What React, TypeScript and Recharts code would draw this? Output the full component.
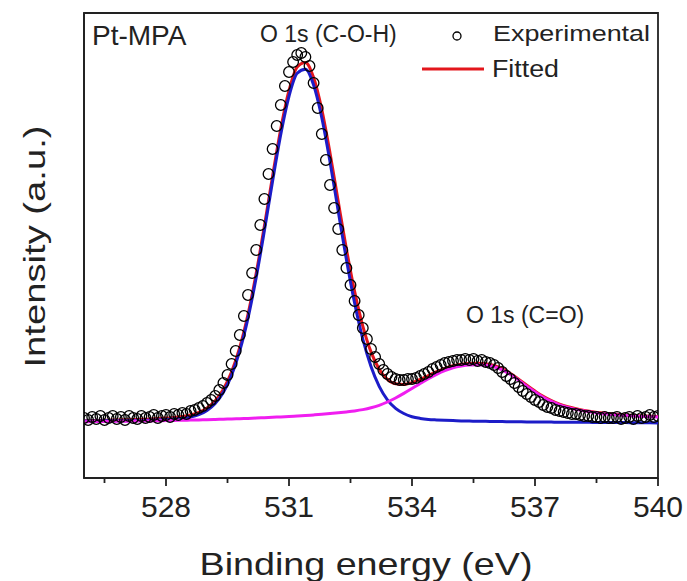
import React from 'react';
import { ComposedChart, Line, Scatter, XAxis, YAxis, ReferenceArea, Label } from 'recharts';

// Binding energy grid of the fitted curves (eV)
const FIT_ENERGY = [
  526.0, 526.2, 526.4, 526.6, 526.8, 527.0, 527.2, 527.4, 527.6, 527.8,
  528.0, 528.2, 528.4, 528.6, 528.8, 529.0, 529.2, 529.4, 529.6, 529.8,
  530.0, 530.2, 530.4, 530.6, 530.8, 531.0, 531.2, 531.4, 531.6, 531.8,
  532.0, 532.2, 532.4, 532.6, 532.8, 533.0, 533.2, 533.4, 533.6, 533.8,
  534.0, 534.2, 534.4, 534.6, 534.8, 535.0, 535.2, 535.4, 535.6, 535.8,
  536.0, 536.2, 536.4, 536.6, 536.8, 537.0, 537.2, 537.4, 537.6, 537.8,
  538.0, 538.2, 538.4, 538.6, 538.8, 539.0, 539.2, 539.4, 539.6, 539.8,
  540.0,
];

// Fitted envelope (red)
const FIT_TOTAL = [
  57.3, 57.4, 57.6, 57.8, 58.0, 58.2, 58.5, 58.7, 59.0, 59.5,
  59.9, 60.6, 61.5, 63.0, 65.6, 70.1, 77.3, 88.8, 106.1, 130.8,
  163.7, 204.7, 252.1, 302.0, 349.2, 387.5, 411.1, 415.6, 400.4, 368.4,
  325.1, 276.7, 229.1, 186.6, 151.9, 126.1, 108.8, 98.7, 94.2, 93.6,
  95.4, 98.7, 102.5, 106.3, 109.6, 112.2, 113.8, 114.6, 114.7, 114.2,
  112.5, 109.3, 104.6, 98.8, 92.7, 86.9, 81.6, 77.4, 73.9, 71.3,
  69.3, 67.6, 66.3, 65.2, 64.4, 63.7, 63.0, 62.5, 62.1, 61.7,
  61.4,
];

// O 1s (C-O-H) component (blue)
const FIT_COH = [
  57.0, 57.0, 57.1, 57.2, 57.2, 57.3, 57.5, 57.6, 57.8, 58.1,
  58.4, 58.9, 59.6, 60.9, 63.3, 67.6, 74.6, 85.8, 102.9, 127.3,
  159.8, 200.5, 247.5, 297.0, 343.8, 381.7, 404.7, 408.7, 392.9, 360.3,
  316.3, 267.1, 218.5, 175.0, 139.0, 111.4, 91.6, 78.2, 69.6, 64.5,
  61.3, 59.6, 58.6, 58.1, 57.7, 57.4, 57.1, 56.9, 56.8, 56.7,
  56.5, 56.4, 56.3, 56.2, 56.1, 56.1, 56.0, 55.9, 55.8, 55.8,
  55.7, 55.7, 55.6, 55.5, 55.5, 55.4, 55.4, 55.3, 55.2, 55.2,
  55.1,
];

// O 1s (C=O) component (magenta)
const FIT_CO = [
  56.3, 56.4, 56.5, 56.6, 56.7, 56.8, 56.9, 57.0, 57.1, 57.3,
  57.4, 57.6, 57.7, 57.9, 58.1, 58.3, 58.5, 58.8, 59.0, 59.3,
  59.6, 59.9, 60.3, 60.7, 61.1, 61.5, 62.0, 62.5, 63.1, 63.7,
  64.4, 65.2, 66.1, 67.1, 68.4, 70.2, 72.7, 76.0, 80.0, 84.6,
  89.5, 94.5, 99.3, 103.6, 107.3, 110.2, 112.0, 113.0, 113.2, 112.8,
  111.3, 108.2, 103.5, 97.8, 91.8, 86.0, 80.8, 76.6, 73.2, 70.6,
  68.6, 67.0, 65.7, 64.6, 63.8, 63.1, 62.5, 62.0, 61.6, 61.2,
  60.9,
];

// Experimental points
const EXP_ENERGY = [
  526.0, 526.1, 526.2, 526.3, 526.4, 526.5, 526.6, 526.7, 526.8, 526.9,
  527.0, 527.1, 527.2, 527.3, 527.4, 527.5, 527.6, 527.7, 527.8, 527.9,
  528.0, 528.1, 528.2, 528.3, 528.4, 528.5, 528.6, 528.7, 528.8, 528.9,
  529.0, 529.1, 529.2, 529.3, 529.4, 529.5, 529.6, 529.7, 529.8, 529.9,
  530.0, 530.1, 530.2, 530.3, 530.4, 530.5, 530.6, 530.7, 530.8, 530.9,
  531.0, 531.1, 531.2, 531.3, 531.4, 531.5, 531.6, 531.7, 531.8, 531.9,
  532.0, 532.1, 532.2, 532.3, 532.4, 532.5, 532.6, 532.7, 532.8, 532.9,
  533.0, 533.1, 533.2, 533.3, 533.4, 533.5, 533.6, 533.7, 533.8, 533.9,
  534.0, 534.1, 534.2, 534.3, 534.4, 534.5, 534.6, 534.7, 534.8, 534.9,
  535.0, 535.1, 535.2, 535.3, 535.4, 535.5, 535.6, 535.7, 535.8, 535.9,
  536.0, 536.1, 536.2, 536.3, 536.4, 536.5, 536.6, 536.7, 536.8, 536.9,
  537.0, 537.1, 537.2, 537.3, 537.4, 537.5, 537.6, 537.7, 537.8, 537.9,
  538.0, 538.1, 538.2, 538.3, 538.4, 538.5, 538.6, 538.7, 538.8, 538.9,
  539.0, 539.1, 539.2, 539.3, 539.4, 539.5, 539.6, 539.7, 539.8, 539.9,
  540.0,
];

const EXP_INTENSITY = [
  60, 58, 61, 59, 62, 58, 60, 62, 59, 61,
  58, 62, 60, 59, 62, 60, 61, 63, 60, 62,
  63, 61, 64, 63, 65, 64, 67, 68, 70, 72,
  75, 78, 82, 88, 95, 103, 114, 127, 143, 162,
  183, 205, 228, 253, 279, 304, 329, 352, 373, 392,
  406, 416, 423, 425, 421, 412, 395, 370, 344, 318,
  293, 270, 249, 228, 210, 193, 177, 163, 150, 139,
  129, 121, 114, 108, 104, 101, 99, 98, 98, 99,
  99, 100, 102, 104, 106, 109, 111, 113, 115, 116,
  117, 118, 118, 119, 118, 119, 117, 118, 116, 115,
  113, 110, 106, 102, 99, 95, 91, 87, 84, 81,
  78, 76, 73, 71, 70, 68, 67, 66, 65, 64,
  64, 63, 62, 62, 61, 61, 60, 61, 60, 60,
  61, 59, 60, 61, 59, 62, 60, 61, 63, 61,
  62,
];

const X_DOMAIN = [526, 540];
const Y_DOMAIN = [0, 465];
const MAJOR_TICKS = [528, 531, 534, 537, 540];
const ALL_TICKS = [526.5, 528, 529.5, 531, 532.5, 534, 535.5, 537, 538.5, 540];

const AXIS_COLOR = '#222';
const TEXT_COLOR = '#222';
const ARIAL = '"Liberation Sans", Arial, sans-serif';

const RED = '#e3161c';
const BLUE = '#1c1cc8';
const MAGENTA = '#f01ef0';

const XTick = (props: any) => {
  const { x, y, payload } = props;
  const major = MAJOR_TICKS.includes(payload.value);
  return (
    <g>
      <line x1={x} x2={x} y1={y} y2={y + (major ? 8 : 5)} stroke={AXIS_COLOR} strokeWidth={1.8} />
      {major && (
        <text x={x} y={y + 39} textAnchor="middle" fontFamily={ARIAL} fontSize={30} fill={TEXT_COLOR}>
          {payload.value}
        </text>
      )}
    </g>
  );
};

const OpenCircle = (props: any) => {
  const { cx, cy } = props;
  if (cx == null || cy == null) return null;
  return <circle cx={cx} cy={cy} r={5.3} fill="none" stroke="#000" strokeWidth={1.3} />;
};

export default function App() {
  const fitData = FIT_ENERGY.map((e, i) => ({
    energy: e,
    total: FIT_TOTAL[i],
    coh: FIT_COH[i],
    co: FIT_CO[i],
  }));
  const expData = EXP_ENERGY.map((e, i) => ({ energy: e, intensity: EXP_INTENSITY[i] }));

  return (
    <div style={{ position: 'absolute', left: 0, top: 0, width: 687, height: 581, background: '#fff' }}>
      <ComposedChart width={687} height={581} margin={{ top: 13, right: 29, bottom: 0, left: 0 }}>
        <XAxis
          dataKey="energy"
          type="number"
          domain={X_DOMAIN}
          ticks={ALL_TICKS}
          interval={0}
          allowDataOverflow
          height={103}
          tickSize={0}
          tickMargin={0}
          tickLine={false}
          tick={<XTick />}
          axisLine={{ stroke: AXIS_COLOR, strokeWidth: 1.8 }}
        >
          <Label
            content={(p: any) => {
              const vb = p.viewBox || { x: 84, y: 478, width: 574, height: 103 };
              return (
                <text
                  x={vb.x + vb.width / 2 - 5}
                  y={vb.y + vb.height - 6}
                  textAnchor="middle"
                  fontFamily={ARIAL}
                  fontSize={32}
                  fill={TEXT_COLOR}
                  textLength={333}
                  lengthAdjust="spacingAndGlyphs"
                >
                  Binding energy (eV)
                </text>
              );
            }}
          />
        </XAxis>
        <YAxis
          type="number"
          domain={Y_DOMAIN}
          allowDataOverflow
          width={84}
          tick={false}
          tickLine={false}
          axisLine={{ stroke: AXIS_COLOR, strokeWidth: 1.8 }}
        >
          <Label
            content={(p: any) => {
              const vb = p.viewBox || { x: 0, y: 13, width: 84, height: 465 };
              const cx = vb.x + 45;
              const cy = vb.y + vb.height / 2 + 1;
              return (
                <text
                  x={cx}
                  y={cy}
                  transform={`rotate(-90 ${cx} ${cy})`}
                  textAnchor="middle"
                  fontFamily={ARIAL}
                  fontSize={30}
                  fill={TEXT_COLOR}
                  textLength={242}
                  lengthAdjust="spacingAndGlyphs"
                >
                  Intensity (a.u.)
                </text>
              );
            }}
          />
        </YAxis>
        <Scatter data={expData} dataKey="intensity" shape={<OpenCircle />} isAnimationActive={false} />
        <Line data={fitData} dataKey="total" type="monotone" stroke={RED} strokeWidth={3} dot={false} isAnimationActive={false} />
        <Line data={fitData} dataKey="coh" type="monotone" stroke={BLUE} strokeWidth={3} dot={false} isAnimationActive={false} />
        <Line data={fitData} dataKey="co" type="monotone" stroke={MAGENTA} strokeWidth={3} dot={false} isAnimationActive={false} />
        <ReferenceArea
          x1={X_DOMAIN[0]}
          x2={X_DOMAIN[1]}
          y1={Y_DOMAIN[0]}
          y2={Y_DOMAIN[1]}
          fill="none"
          fillOpacity={0}
          stroke={AXIS_COLOR}
          strokeWidth={1.8}
          ifOverflow="visible"
        />
      </ComposedChart>
      <svg
        width={687}
        height={581}
        style={{ position: 'absolute', left: 0, top: 0, pointerEvents: 'none' }}
      >
        <text x={92} y={45} fontFamily={ARIAL} fontSize={28} fill={TEXT_COLOR}>Pt-MPA</text>
        <text x={260} y={42} fontFamily={ARIAL} fontSize={23} fill={TEXT_COLOR}>O 1s (C-O-H)</text>
        <text x={466} y={323} fontFamily={ARIAL} fontSize={23} fill={TEXT_COLOR}>O 1s (C=O)</text>
        <circle cx={457} cy={36} r={4} fill="none" stroke="#000" strokeWidth={1.3} />
        <text x={493} y={41} fontFamily={ARIAL} fontSize={22} fill={TEXT_COLOR} textLength={157} lengthAdjust="spacingAndGlyphs">
          Experimental
        </text>
        <line x1={422} x2={484} y1={69} y2={69} stroke={RED} strokeWidth={3} />
        <text x={492} y={77} fontFamily={ARIAL} fontSize={23} fill={TEXT_COLOR} textLength={67} lengthAdjust="spacingAndGlyphs">
          Fitted
        </text>
      </svg>
    </div>
  );
}
